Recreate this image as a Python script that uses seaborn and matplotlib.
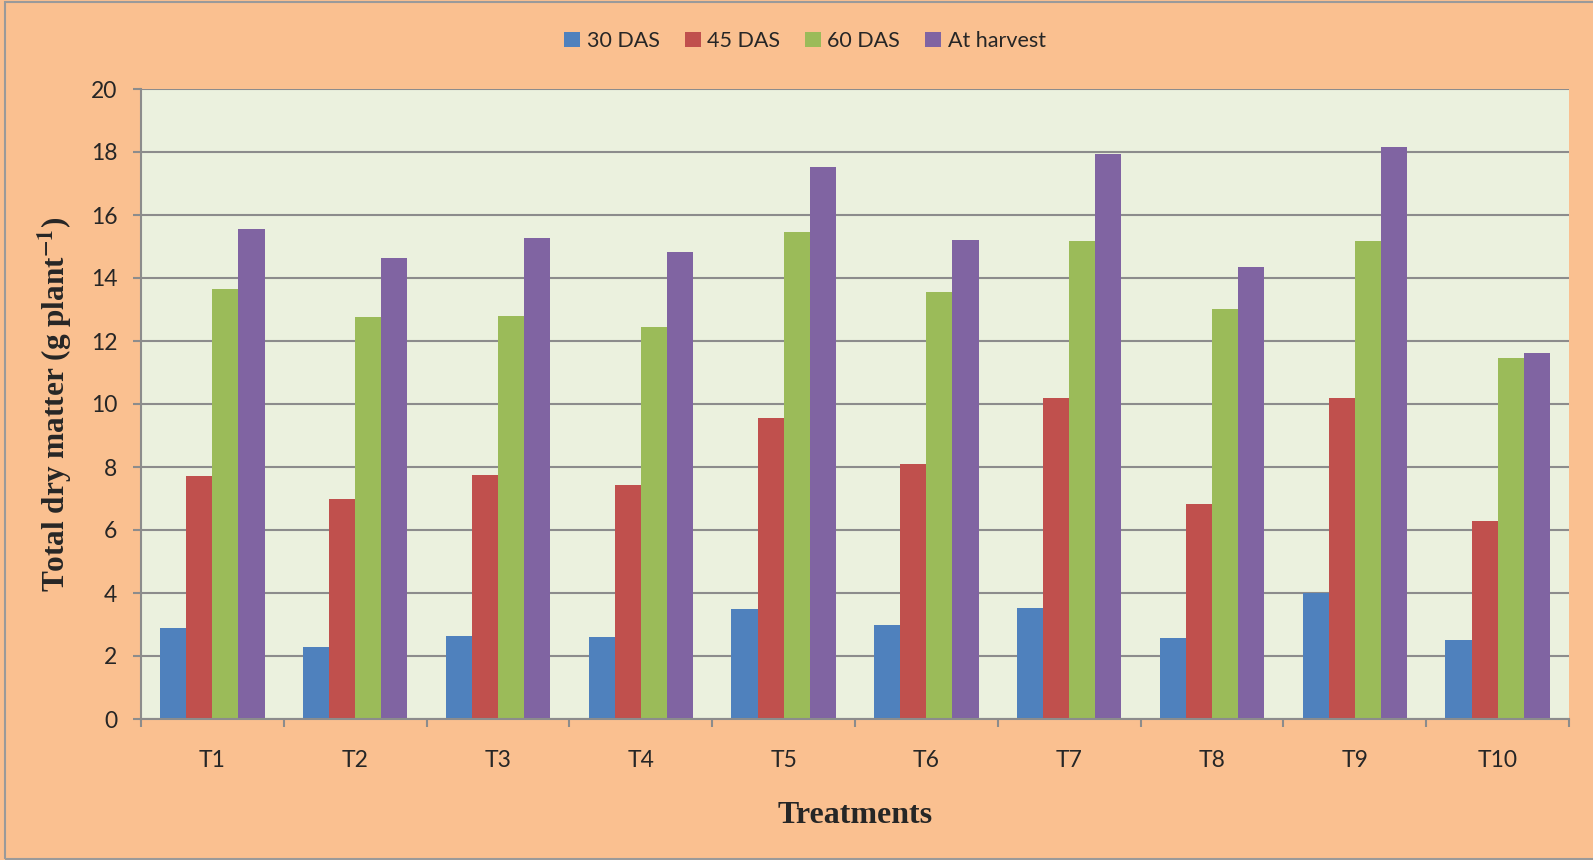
import numpy as np
import pandas as pd
import matplotlib
matplotlib.use('Agg')
import matplotlib.pyplot as plt
import seaborn as sns
from matplotlib.patches import Patch, Rectangle
from matplotlib.ticker import FixedLocator

# data
treatments = ['T1', 'T2', 'T3', 'T4', 'T5', 'T6', 'T7', 'T8', 'T9', 'T10']
stages = ['30 DAS', '45 DAS', '60 DAS', 'At harvest']
das30 = [2.88, 2.29, 2.62, 2.59, 3.49, 2.98, 3.53, 2.56, 4.01, 2.50]
das45 = [7.71, 6.98, 7.75, 7.44, 9.56, 8.11, 10.19, 6.81, 10.20, 6.27]
das60 = [13.65, 12.75, 12.78, 12.45, 15.46, 13.54, 15.16, 13.02, 15.19, 11.46]
harvest = [15.54, 14.65, 15.27, 14.81, 17.53, 15.21, 17.95, 14.36, 18.15, 11.63]
colors = ['#4F81BD', '#C0504D', '#9BBB59', '#8064A2']

df = pd.DataFrame({
    'treatment': treatments * 4,
    'stage': np.repeat(stages, len(treatments)),
    'value': das30 + das45 + das60 + harvest,
})

sns.set_style('white')
plt.rcParams['font.family'] = ['Lato', 'DejaVu Sans']
plt.rcParams['mathtext.fontset'] = 'stix'

fig = plt.figure(figsize=(15.93, 8.6), dpi=100)
fig.patch.set_facecolor('#FAC090')
fig.patches.append(Rectangle((5 / 1593, 1 / 860), 1.2, 1 - 3 / 860, transform=fig.transFigure,
                             fill=False, edgecolor='#9A9A9A', linewidth=1.5))

ax = fig.add_axes([141 / 1593, 1 - 719 / 860, 1428 / 1593, 630 / 860])
ax.set_facecolor('#EBF1DE')

sns.barplot(data=df, x='treatment', y='value', hue='stage', palette=colors, saturation=1,
            width=0.73, errorbar=None, linewidth=0, ax=ax, legend=False)

ax.set_ylim(0, 20)
ax.set_xlim(-0.5, len(treatments) - 0.5)
ax.set_yticks(range(0, 21, 2))
ax.grid(axis='y', color='#8C8C8C', linewidth=1.5)
ax.set_axisbelow(True)
for s in ['top', 'right']:
    ax.spines[s].set_visible(False)
for s in ['left', 'bottom']:
    ax.spines[s].set_color('#8C8C8C')
    ax.spines[s].set_linewidth(1.5)

# category boundaries as major ticks, labels on minor ticks
ax.xaxis.set_major_locator(FixedLocator(np.arange(-0.5, len(treatments), 1.0)))
ax.xaxis.set_minor_locator(FixedLocator(np.arange(len(treatments))))
ax.set_xticklabels([], minor=False)
ax.set_xticklabels(treatments, minor=True)
ax.tick_params(axis='x', which='major', length=6, width=1.5, color='#8C8C8C', direction='out')
ax.tick_params(axis='x', which='minor', length=0, pad=22, labelsize=16.5)
ax.tick_params(axis='y', length=6, width=1.5, color='#8C8C8C', direction='out', pad=11, labelsize=16.5)
ax.tick_params(bottom=True, left=True)

ax.set_xlabel('Treatments', family='Liberation Serif', fontweight='bold', fontsize=23)
ax.set_ylabel('Total dry matter (g plant$^{\\mathbf{-1}}$)', family='Liberation Serif',
              fontweight='bold', fontsize=22.5)
ax.xaxis.set_label_coords(0.5, -0.13)
ax.yaxis.set_label_coords(-0.046, 0.5)

handles = [Patch(facecolor=c, edgecolor='none') for c in colors]
fig.legend(handles, stages, loc='center', bbox_to_anchor=(0.5053, 1 - 41 / 860), ncol=4,
           frameon=False, fontsize=15.5, handlelength=0.75, handleheight=0.75,
           handletextpad=0.3, columnspacing=1.15)

fig.savefig('out.png', dpi=100, facecolor=fig.get_facecolor())
